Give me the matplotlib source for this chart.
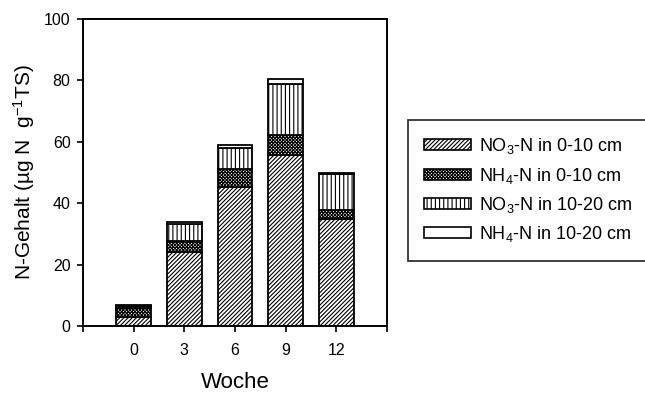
import matplotlib
matplotlib.use("Agg")
import matplotlib.pyplot as plt
from matplotlib.patches import Patch
import numpy as np

plt.rcParams['font.family'] = ['Liberation Sans', 'DejaVu Sans']
plt.rcParams['mathtext.fontset'] = 'custom'
plt.rcParams['mathtext.rm'] = 'Liberation Sans'
plt.rcParams['mathtext.it'] = 'Liberation Sans:italic'
plt.rcParams['mathtext.bf'] = 'Liberation Sans:bold'
plt.rcParams['hatch.linewidth'] = 0.8

weeks = ['0', '3', '6', '9', '12']
no3_0_10 = [3.0, 24.0, 45.3, 55.6, 34.7]
nh4_0_10 = [2.8, 3.8, 5.7, 6.7, 3.0]
no3_10_20 = [0.6, 5.4, 7.0, 16.6, 11.7]
nh4_10_20 = [0.6, 0.7, 0.9, 1.5, 0.5]

labels = [r'NO$_3$-N in 0-10 cm', r'NH$_4$-N in 0-10 cm',
          r'NO$_3$-N in 10-20 cm', r'NH$_4$-N in 10-20 cm']
hatches = ['////////', 'xxxxxxxxxx', '||||', '']
series = [no3_0_10, nh4_0_10, no3_10_20, nh4_10_20]

fig = plt.figure(figsize=(6.45, 3.93), dpi=100)
ax = fig.add_axes([0.1287, 0.1705, 0.4713, 0.7812])

x = np.arange(1, len(weeks) + 1)
bottom = np.zeros(len(weeks))
handles = []
for vals, h, lab in zip(series, hatches, labels):
    ax.bar(x, vals, width=0.68, bottom=bottom, color='white', edgecolor='black',
           hatch=h, linewidth=1.3)
    bottom += np.array(vals)
    handles.append(Patch(facecolor='white', edgecolor='black', hatch=h, linewidth=1.2, label=lab))

ax.set_xlim(0, 6)
ax.set_ylim(0, 100)
ax.set_xticks(np.arange(0, 7))
ax.set_xticklabels([''] + weeks + [''])
ax.set_yticks(np.arange(0, 101, 20))
ax.tick_params(axis='both', labelsize=11.5, direction='out', length=4, width=1.2, pad=5)
ax.tick_params(axis='x', pad=8)
for s in ax.spines.values():
    s.set_linewidth(1.4)

ax.set_xlabel('Woche', fontsize=16, labelpad=10)
ax.set_ylabel(r'N-Gehalt (µg N  g$^{-1}$TS)', fontsize=15, labelpad=5)

leg = fig.legend(handles=handles, loc='upper left', bbox_to_anchor=(0.6326, 0.695, 0.40, 0.0),
                 mode='expand',
                 frameon=True, fancybox=False, edgecolor='black', fontsize=13,
                 handlelength=2.6, handleheight=0.55, labelspacing=0.52,
                 borderpad=0.9, handletextpad=0.45, borderaxespad=0)
leg.get_frame().set_linewidth(1.3)

fig.savefig('out.png', dpi=100)
